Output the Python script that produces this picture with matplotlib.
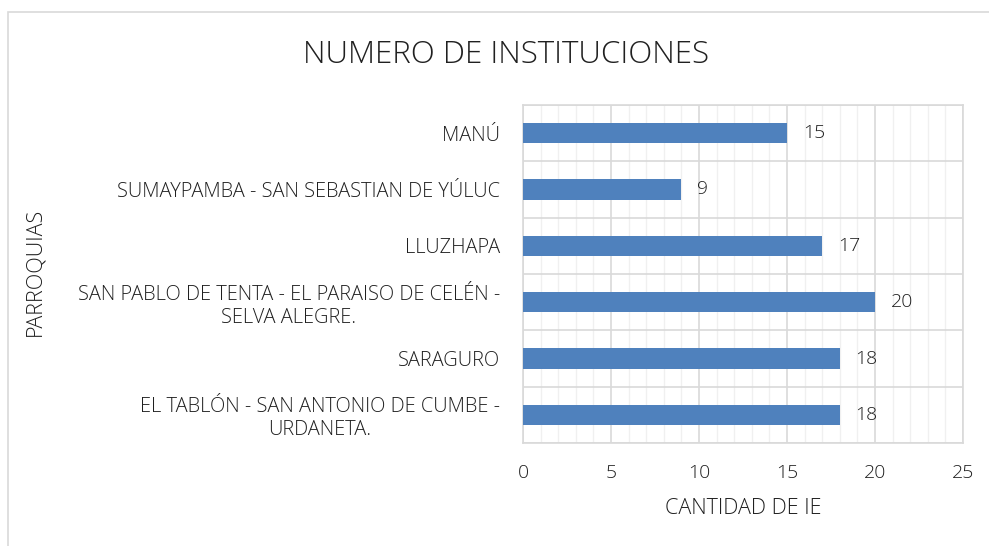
import matplotlib
matplotlib.use("Agg")
import matplotlib.pyplot as plt
from matplotlib.ticker import MultipleLocator
from matplotlib.patches import Rectangle
from matplotlib import font_manager

categories = [
    "EL TABLÓN - SAN ANTONIO DE CUMBE -\nURDANETA.",
    "SARAGURO",
    "SAN PABLO DE TENTA - EL PARAISO DE CELÉN -\nSELVA ALEGRE.",
    "LLUZHAPA",
    "SUMAYPAMBA - SAN SEBASTIAN DE YÚLUC",
    "MANÚ",
]
values = [18, 18, 20, 17, 9, 15]
xticks = [0, 5, 10, 15, 20, 25]

# pick a light font if available
names = {}
for f in font_manager.fontManager.ttflist:
    names.setdefault(f.name, []).append(f.weight)
fam = 'Open Sans'
w = 'normal'
for cand in ['Open Sans', 'Lato', 'Noto Sans', 'Inter']:
    ws = names.get(cand, [])
    if any(isinstance(x, int) and x <= 300 for x in ws) or any(x == 'light' for x in ws):
        fam = cand
        w = 300
        break

plt.rcParams['font.family'] = [fam, 'DejaVu Sans']
plt.rcParams['font.weight'] = w
plt.rcParams['axes.labelweight'] = w
plt.rcParams['axes.titleweight'] = w
txt = '#202020'

fig = plt.figure(figsize=(9.89, 5.46), dpi=100)
ax = fig.add_axes([523/989, 1-443/546, 440/989, 338/546])

ypos = list(range(len(categories)))
ax.barh(ypos, values, height=0.36, color='#4f81bd', zorder=3)
for y, v in zip(ypos, values):
    ax.text(v + 0.9, y, str(v), va='center', ha='left', fontsize=14, color=txt, zorder=4, fontweight=w)

ax.set_xlim(0, 25)
ax.set_ylim(-0.5, len(categories) - 0.5)
ax.set_xticks(xticks)
ax.xaxis.set_minor_locator(MultipleLocator(1))
ax.set_yticks(ypos)
ax.set_yticklabels(categories, multialignment='center', fontsize=14.4, color=txt, fontweight=w)
ax.set_yticks([i + 0.5 for i in range(-1, len(categories))], minor=True)
ax.tick_params(axis='y', which='both', length=0, pad=16.5)
ax.tick_params(axis='x', which='both', length=0, pad=15, labelsize=14, labelcolor=txt)

ax.grid(axis='x', which='minor', color='#f0f0f0', lw=1, zorder=0)
ax.grid(axis='x', which='major', color='#d9d9d9', lw=1.2, zorder=1)
ax.grid(axis='y', which='minor', color='#d9d9d9', lw=1.2, zorder=1)
for s in ax.spines.values():
    s.set_color('#d9d9d9')
    s.set_linewidth(1.2)

ax.set_xlabel("CANTIDAD DE IE", fontsize=15.5, color=txt, labelpad=12, fontweight=w)
fig.text(35/989, 1-272/546, "PARROQUIAS", rotation=90, ha='center', va='center', fontsize=15.5, color=txt, fontweight=w)
fig.text(506/989, 1-55/546, "NUMERO DE INSTITUCIONES", ha='center', va='center', fontsize=22.5, color=txt, fontweight=w)

fig.patches.append(Rectangle((8/989, -0.01), 1.0, 1 - 12/546 + 0.01, transform=fig.transFigure,
                             fill=False, edgecolor='#d9d9d9', lw=1.2))

fig.savefig("out.png", dpi=100)
